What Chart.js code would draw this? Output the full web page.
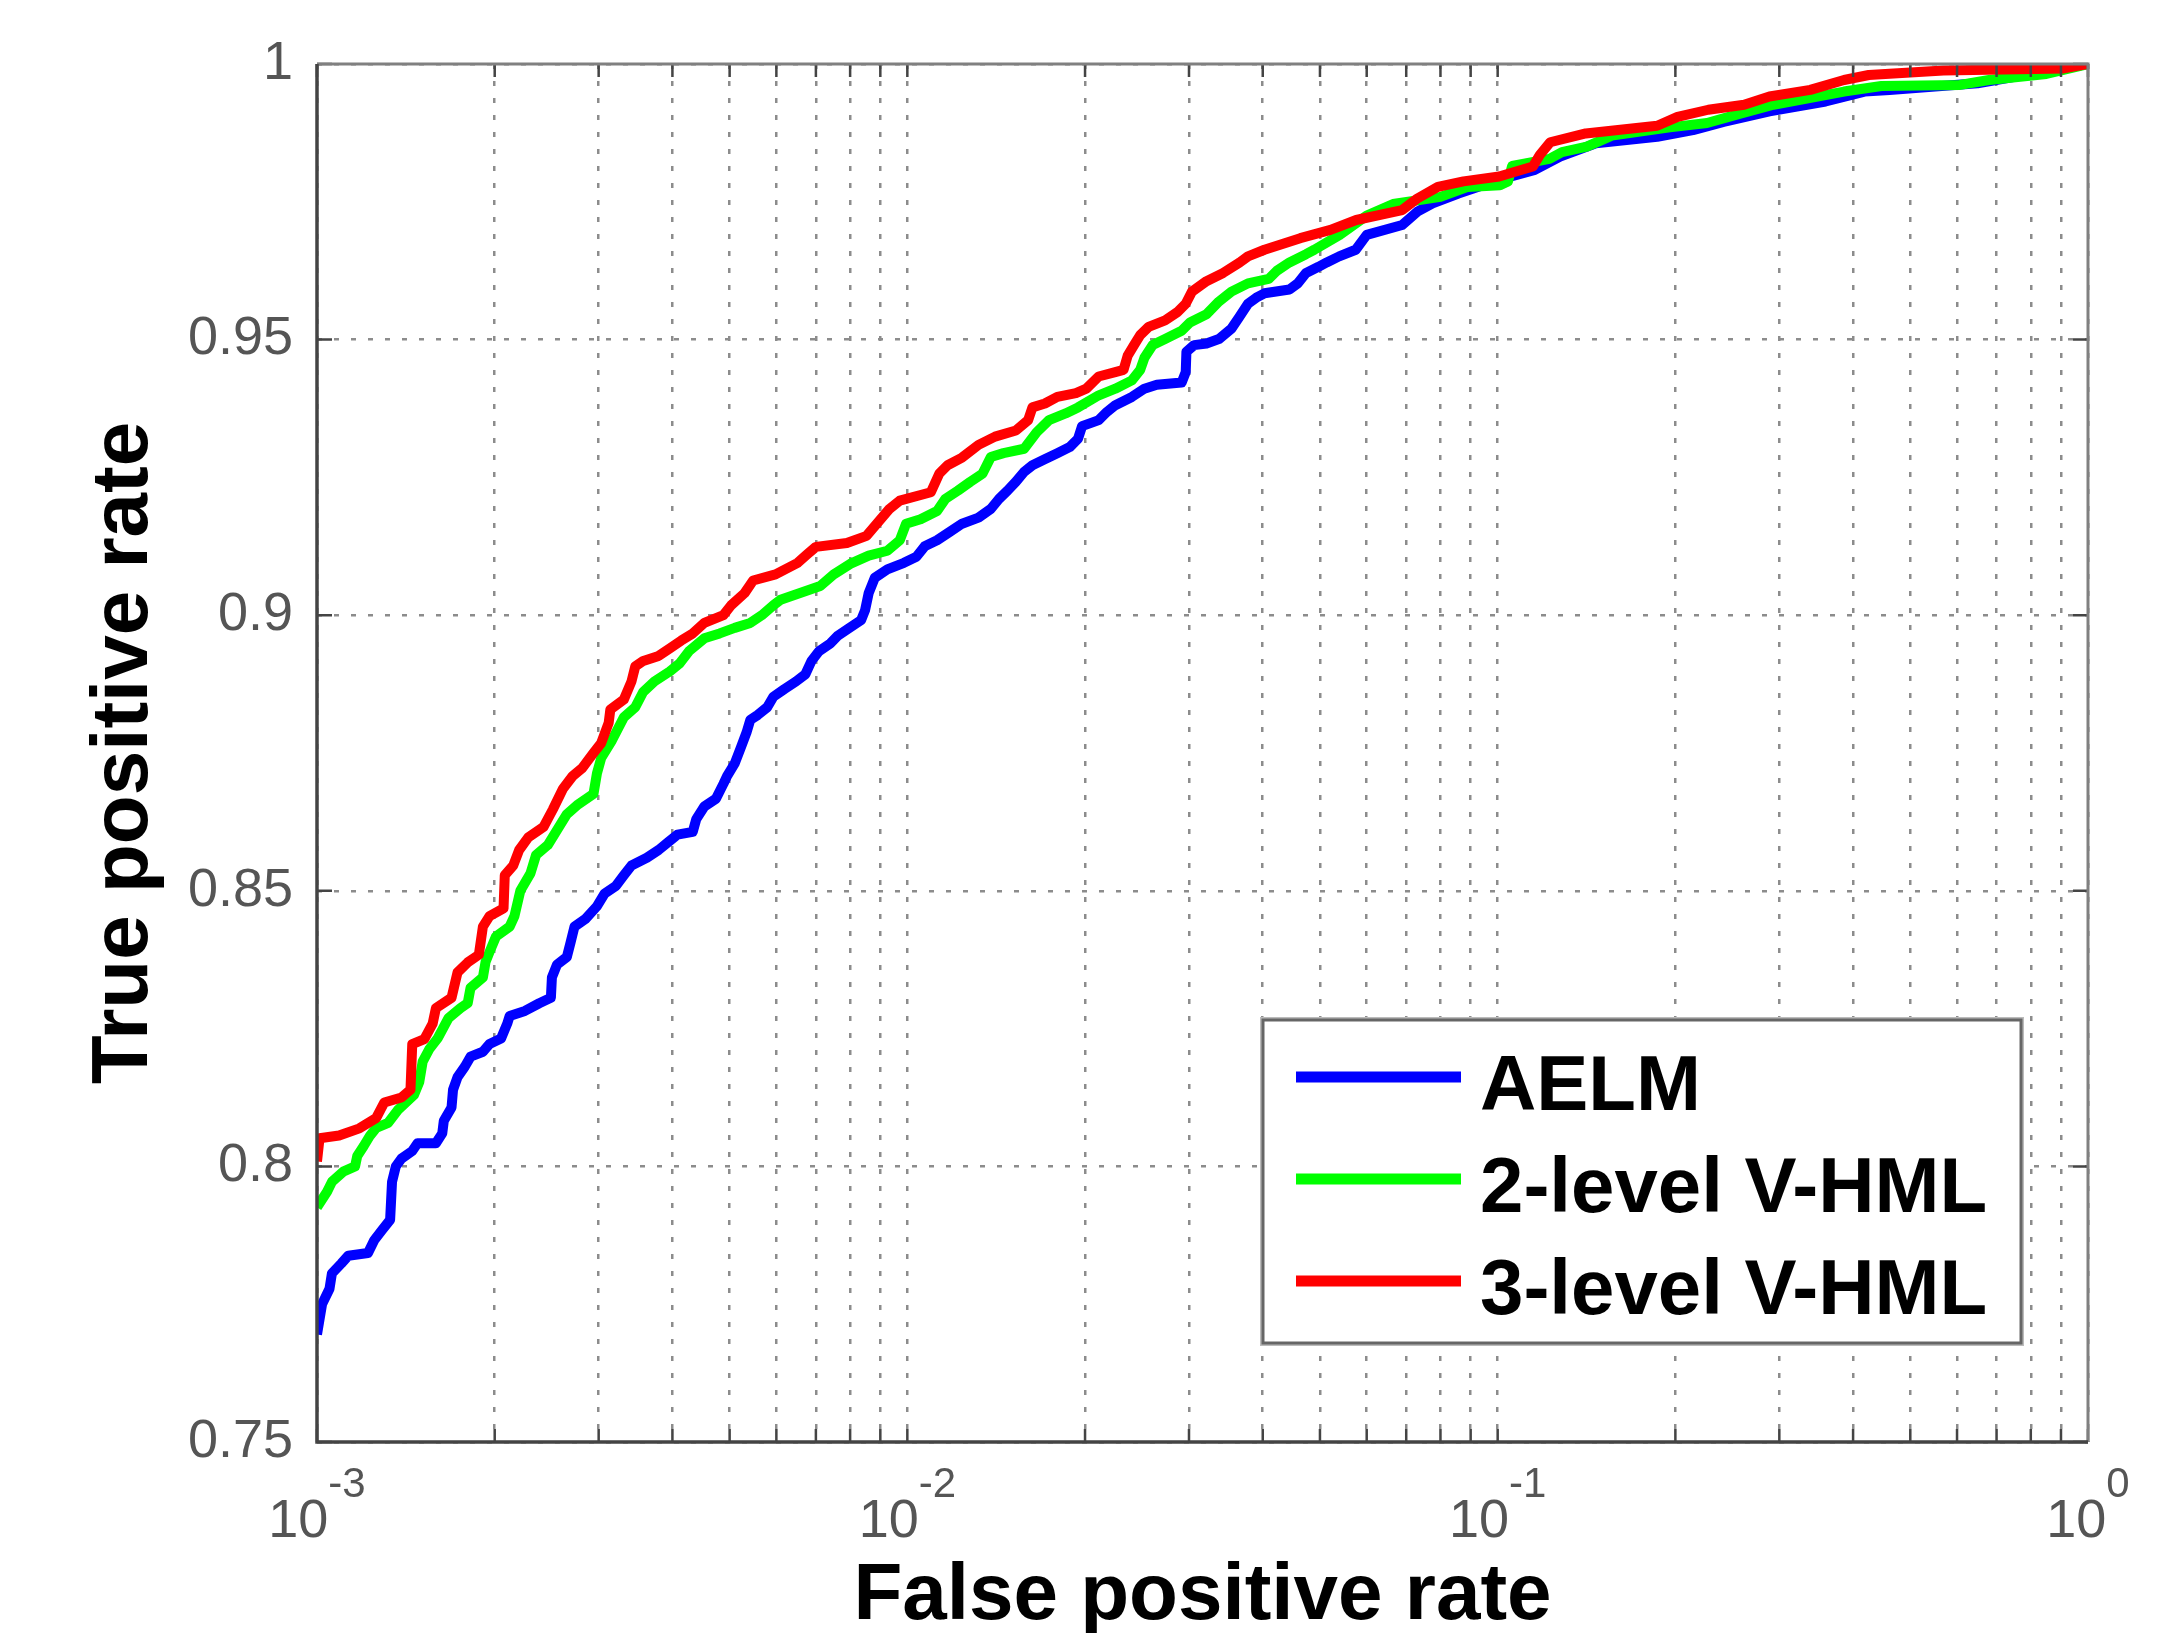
<!DOCTYPE html>
<html>
<head>
<meta charset="utf-8">
<script src="https://cdn.jsdelivr.net/npm/chart.js@4.4.0/dist/chart.umd.min.js"></script>
<style>
  html, body { margin: 0; padding: 0; background: #fff; }
  canvas { display: block; }
</style>
</head>
<body>
<canvas id="roc" width="2183" height="1633"></canvas>
<script>
const seriesNames = ['AELM', '2-level V-HML', '3-level V-HML']
const seriesColors = ['#0000ff', '#00ff00', '#ff0000']

// AELM
const aelmFpr = [0.00100,0.00102,0.00105,0.00106,0.00110,0.00113,0.00122,0.00125,0.00129,0.00133,0.00134,0.00136,0.00139,0.00145,0.00148,0.00159,0.00163,0.00164,0.00169,0.00170,0.00173,0.00178,0.00182,0.00191,0.00196,0.00205,0.00210,0.00212,0.00225,0.00238,0.00249,0.00250,0.00255,0.00265,0.00269,0.00273,0.00285,0.00298,0.00307,0.00321,0.00331,0.00341,0.00362,0.00379,0.00393,0.00408,0.00433,0.00439,0.00453,0.00474,0.00488,0.00495,0.00510,0.00522,0.00534,0.00542,0.00558,0.00579,0.00593,0.00619,0.00648,0.00672,0.00688,0.00709,0.00741,0.00763,0.00798,0.00835,0.00848,0.00860,0.00881,0.00925,0.00987,0.01036,0.01070,0.01123,0.01179,0.01238,0.01320,0.01385,0.01430,0.01478,0.01527,0.01577,0.01629,0.01709,0.01795,0.01884,0.01946,0.01977,0.02110,0.02179,0.02251,0.02401,0.02521,0.02646,0.02915,0.02962,0.02970,0.03060,0.03212,0.03371,0.03540,0.03655,0.03776,0.03900,0.04027,0.04439,0.04585,0.04737,0.04971,0.05134,0.05389,0.05749,0.0600,0.0689,0.0731,0.0776,0.0858,0.1006,0.1156,0.1276,0.1467,0.1863,0.2142,0.2414,0.2887,0.3593,0.4184,0.4612,0.6500,1.0]
const aelmTpr = [0.7695,0.7750,0.7778,0.7806,0.7824,0.7838,0.7843,0.7866,0.7885,0.7903,0.7972,0.8000,0.8014,0.8028,0.8042,0.8042,0.8060,0.8083,0.8107,0.8139,0.8162,0.8181,0.8199,0.8208,0.8222,0.8232,0.8259,0.8273,0.8282,0.8296,0.8306,0.8343,0.8366,0.8380,0.8407,0.8435,0.8449,0.8472,0.8495,0.8509,0.8528,0.8546,0.8560,0.8574,0.8588,0.8602,0.8607,0.8630,0.8653,0.8667,0.8694,0.8708,0.8731,0.8759,0.8787,0.8810,0.8819,0.8833,0.8852,0.8866,0.8880,0.8893,0.8917,0.8935,0.8949,0.8963,0.8977,0.8991,0.9009,0.9040,0.9068,0.9083,0.9095,0.9106,0.9125,0.9136,0.9151,0.9166,0.9177,0.9193,0.9211,0.9226,0.9242,0.9260,0.9272,0.9283,0.9294,0.9305,0.9320,0.9343,0.9354,0.9369,0.9381,0.9396,0.9411,0.9418,0.9422,0.9441,0.9478,0.9490,0.9493,0.9501,0.9520,0.9542,0.9565,0.9576,0.9584,0.9591,0.9602,0.9621,0.9632,0.9640,0.9651,0.9663,0.9690,0.9708,0.9732,0.9747,0.9765,0.9790,0.9808,0.9832,0.9856,0.9868,0.9880,0.9895,0.9914,0.9932,0.9950,0.9953,0.9965,1.0]

// 2-level V-HML
const hml2Fpr = [0.00100,0.00104,0.00106,0.00111,0.00116,0.00117,0.00120,0.00123,0.00126,0.00132,0.00137,0.00146,0.00149,0.00151,0.00155,0.00160,0.00167,0.00175,0.00180,0.00182,0.00191,0.00193,0.00196,0.00201,0.00212,0.00216,0.00221,0.00230,0.00235,0.00246,0.00257,0.00265,0.00277,0.00294,0.00298,0.00303,0.00316,0.00331,0.00346,0.00357,0.00373,0.00396,0.00411,0.00427,0.00453,0.00481,0.00510,0.00542,0.00567,0.00593,0.00610,0.00712,0.00750,0.00800,0.00860,0.00925,0.00971,0.00995,0.01053,0.01123,0.01160,0.01218,0.01278,0.01341,0.01385,0.01455,0.01577,0.01656,0.01738,0.01854,0.01946,0.02110,0.02251,0.02401,0.02480,0.02521,0.02604,0.02733,0.02915,0.03011,0.03212,0.03371,0.03540,0.03776,0.04093,0.04227,0.04439,0.04736,0.04891,0.0540,0.0600,0.0665,0.0800,0.0890,0.1009,0.1041,0.1058,0.1224,0.1285,0.1416,0.1561,0.1957,0.2263,0.2576,0.2932,0.3861,0.4467,0.6071,0.6800,0.8500,1.0]
const hml2Tpr = [0.7926,0.7954,0.7972,0.7991,0.8000,0.8019,0.8037,0.8056,0.8070,0.8079,0.8102,0.8130,0.8153,0.8190,0.8213,0.8232,0.8269,0.8287,0.8296,0.8324,0.8343,0.8371,0.8389,0.8417,0.8435,0.8454,0.8500,0.8532,0.8565,0.8583,0.8616,0.8639,0.8657,0.8676,0.8713,0.8741,0.8773,0.8815,0.8833,0.8861,0.8880,0.8898,0.8912,0.8935,0.8958,0.8967,0.8977,0.8986,0.9000,0.9018,0.9028,0.9053,0.9074,0.9093,0.9108,0.9117,0.9136,0.9166,0.9174,0.9189,0.9211,0.9226,0.9242,0.9257,0.9287,0.9294,0.9302,0.9332,0.9354,0.9366,0.9377,0.9399,0.9411,0.9426,0.9445,0.9467,0.9490,0.9501,0.9516,0.9531,0.9546,0.9569,0.9587,0.9602,0.9610,0.9625,0.9640,0.9655,0.9663,0.9690,0.9725,0.9746,0.9759,0.9777,0.9780,0.9787,0.9815,0.9828,0.9840,0.9850,0.9870,0.9885,0.9893,0.9910,0.9926,0.9950,0.9960,0.9962,0.9971,0.9982,1.0]

// 3-level V-HML
const hml3Fpr = [0.00100,0.00101,0.00109,0.00118,0.00126,0.00130,0.00139,0.00144,0.00145,0.00152,0.00157,0.00159,0.00169,0.00173,0.00180,0.00188,0.00191,0.00196,0.00207,0.00208,0.00215,0.00220,0.00228,0.00242,0.00251,0.00261,0.00271,0.00281,0.00294,0.00303,0.00312,0.00314,0.00331,0.00341,0.00346,0.00357,0.00379,0.00396,0.00414,0.00433,0.00453,0.00488,0.00503,0.00530,0.00548,0.00598,0.00652,0.00676,0.00700,0.00790,0.00853,0.00933,0.00971,0.01096,0.01133,0.01170,0.01238,0.01320,0.01408,0.01527,0.01602,0.01629,0.01710,0.01795,0.01930,0.02010,0.02109,0.02250,0.02324,0.02362,0.02421,0.02480,0.02563,0.02733,0.02869,0.02962,0.03035,0.03212,0.03428,0.03655,0.03776,0.04027,0.0463,0.0521,0.0576,0.0689,0.0731,0.0792,0.0875,0.1006,0.1147,0.1179,0.1227,0.1410,0.1863,0.2017,0.2274,0.2615,0.2887,0.3385,0.3861,0.4253,0.5691,0.9095,1.0]
const hml3Tpr = [0.8009,0.8051,0.8056,0.8069,0.8088,0.8116,0.8125,0.8139,0.8222,0.8231,0.8259,0.8287,0.8306,0.8352,0.8370,0.8384,0.8435,0.8454,0.8468,0.8528,0.8546,0.8574,0.8597,0.8616,0.8648,0.8685,0.8708,0.8722,0.8750,0.8768,0.8805,0.8829,0.8847,0.8880,0.8907,0.8917,0.8926,0.8940,0.8954,0.8967,0.8986,0.9000,0.9018,0.9040,0.9063,0.9074,0.9095,0.9110,0.9124,0.9131,0.9144,0.9193,0.9208,0.9223,0.9257,0.9272,0.9286,0.9309,0.9324,0.9335,0.9354,0.9377,0.9384,0.9396,0.9403,0.9411,0.9433,0.9441,0.9445,0.9471,0.9490,0.9508,0.9523,0.9535,0.9550,0.9565,0.9587,0.9606,0.9621,0.9640,0.9651,0.9663,0.9684,0.9699,0.9717,0.9735,0.9756,0.9777,0.9787,0.9796,0.9814,0.9835,0.9858,0.9874,0.9888,0.9904,0.9917,0.9926,0.9941,0.9953,0.9971,0.9980,0.9988,0.9992,1.0]

const xDecades = [-3, -2, -1, 0]
const xMinor = [1, 2, 3, 4, 5, 6, 7, 8, 9]
const yTicks = [0.75, 0.8, 0.85, 0.9, 0.95, 1]

const FONT = "'Liberation Sans', Arial, Helvetica, sans-serif"

const xTickValues = []
xDecades.forEach((e, i) => {
	if (i === xDecades.length - 1) { xTickValues.push(Math.pow(10, e)); return }
	xMinor.forEach(m => xTickValues.push(m * Math.pow(10, e)))
})

function points(xs, ys) {
	return xs.map((v, i) => ({x: v, y: ys[i]}))
}

// ticks pointing inwards, axes box, 10^n labels and the legend
const matlabFrame = {
	id: 'matlabFrame',
	afterDraw(chart) {
		const ctx = chart.ctx
		const a = chart.chartArea
		const xs = chart.scales.x
		const ys = chart.scales.y
		ctx.save()

		ctx.strokeStyle = '#444'
		ctx.lineWidth = 2.5
		ctx.beginPath()
		xs.ticks.forEach(t => {
			const px = xs.getPixelForValue(t.value)
			ctx.moveTo(px, a.bottom); ctx.lineTo(px, a.bottom - 13)
			ctx.moveTo(px, a.top); ctx.lineTo(px, a.top + 13)
		})
		ys.ticks.forEach(t => {
			const py = ys.getPixelForValue(t.value)
			ctx.moveTo(a.left, py); ctx.lineTo(a.left + 15, py)
			ctx.moveTo(a.right, py); ctx.lineTo(a.right - 15, py)
		})
		ctx.stroke()

		// box
		ctx.lineWidth = 3
		ctx.strokeStyle = '#808080'
		ctx.beginPath()
		ctx.moveTo(a.left, a.top); ctx.lineTo(a.right, a.top); ctx.lineTo(a.right, a.bottom)
		ctx.stroke()
		ctx.lineWidth = 3.5
		ctx.strokeStyle = '#444'
		ctx.beginPath()
		ctx.moveTo(a.left, a.top); ctx.lineTo(a.left, a.bottom); ctx.lineTo(a.right, a.bottom)
		ctx.stroke()

		// x tick labels as 10 with superscript exponent
		ctx.fillStyle = '#555'
		ctx.textAlign = 'left'
		ctx.textBaseline = 'alphabetic'
		xDecades.forEach(e => {
			const px = xs.getPixelForValue(Math.pow(10, e))
			const sup = String(e)
			ctx.font = `54px ${FONT}`
			const wb = ctx.measureText('10').width
			ctx.font = `42px ${FONT}`
			const we = ctx.measureText(sup).width
			const x0 = px - (wb + we) / 2
			ctx.font = `54px ${FONT}`
			ctx.fillText('10', x0, a.bottom + 95)
			ctx.font = `42px ${FONT}`
			ctx.fillText(sup, x0 + wb, a.bottom + 55)
		})

		// legend
		const box = {x: 1263, y: 1020, w: 758, h: 323}
		ctx.fillStyle = '#fff'
		ctx.fillRect(box.x, box.y, box.w, box.h)
		ctx.strokeStyle = '#bbb'
		ctx.lineWidth = 2
		ctx.strokeRect(box.x - 2, box.y - 2, box.w + 4, box.h + 4)
		ctx.strokeStyle = '#666'
		ctx.lineWidth = 3
		ctx.strokeRect(box.x, box.y, box.w, box.h)
		ctx.font = `bold 78px ${FONT}`
		chart.data.datasets.forEach((ds, i) => {
			const rowY = 1077 + i * 102
			ctx.strokeStyle = ds.borderColor
			ctx.lineWidth = 11
			ctx.beginPath()
			ctx.moveTo(1296, rowY); ctx.lineTo(1461, rowY)
			ctx.stroke()
			ctx.fillStyle = '#000'
			ctx.fillText(ds.label, 1480, rowY + 33)
		})
		ctx.restore()
	}
}

new Chart(document.getElementById('roc'), {
	type: 'line',
	data: {
		datasets: [
			{label: seriesNames[0], data: points(aelmFpr, aelmTpr), borderColor: seriesColors[0], order: 3},
			{label: seriesNames[1], data: points(hml2Fpr, hml2Tpr), borderColor: seriesColors[1], order: 2},
			{label: seriesNames[2], data: points(hml3Fpr, hml3Tpr), borderColor: seriesColors[2], order: 1}
		]
	},
	options: {
		responsive: false,
		devicePixelRatio: 1,
		animation: false,
		datasets: {
			line: {borderWidth: 10, pointRadius: 0, tension: 0, fill: false, borderJoinStyle: 'round', borderCapStyle: 'butt'}
		},
		layout: {autoPadding: false, padding: {top: 64, right: 95, left: 0, bottom: 0}},
		plugins: {legend: {display: false}, tooltip: {enabled: false}},
		scales: {
			x: {
				type: 'logarithmic',
				min: 0.001,
				max: 1,
				afterBuildTicks: s => { s.ticks = xTickValues.map(v => ({value: v})) },
				afterFit: s => { s.height = 191 },
				ticks: {display: false},
				grid: {color: '#8c8c8c', lineWidth: 2.5, drawTicks: false},
				border: {display: false, dash: [5, 12]},
				title: {
					display: true,
					text: 'False positive rate',
					color: '#000',
					font: {family: FONT, size: 80, weight: 'bold', lineHeight: 1},
					padding: {top: 0, bottom: -4}
				}
			},
			y: {
				type: 'linear',
				min: 0.75,
				max: 1,
				afterBuildTicks: s => { s.ticks = yTicks.map(v => ({value: v})) },
				afterFit: s => { s.width = 317 },
				ticks: {
					autoSkip: false,
					padding: 24,
					color: '#555',
					font: {family: FONT, size: 54},
					callback: v => String(v)
				},
				grid: {color: '#8c8c8c', lineWidth: 2.5, drawTicks: false},
				border: {display: false, dash: [5, 12]},
				title: {
					display: true,
					text: 'True positive rate',
					color: '#000',
					font: {family: FONT, size: 80, weight: 'bold', lineHeight: 1},
					padding: {top: 85, bottom: 0}
				}
			}
		}
	},
	plugins: [matlabFrame]
})
</script>
</body>
</html>
